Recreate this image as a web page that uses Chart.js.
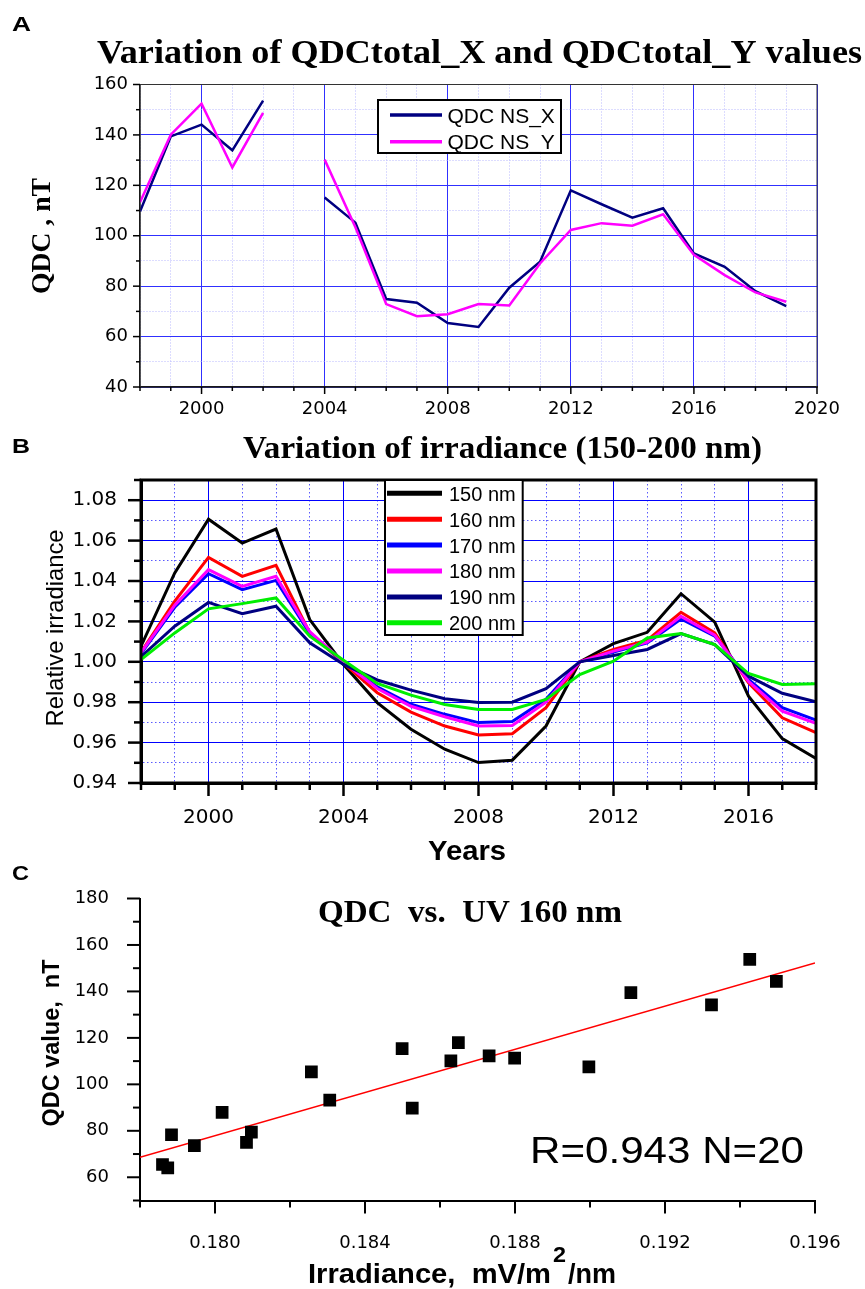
<!DOCTYPE html>
<html>
<head>
<meta charset="utf-8">
<script src="https://cdn.jsdelivr.net/npm/chart.js@4.4.1/dist/chart.umd.min.js"></script>
<style>
  html, body { margin: 0; padding: 0; background: #fff; }
  #wrap { position: relative; width: 865px; height: 1289px; }
  #wrap canvas { position: absolute; left: 0; top: 0; }
</style>
</head>
<body>
<div id="wrap">
  <canvas id="chartA" width="865" height="1289"></canvas>
  <canvas id="chartB" width="865" height="1289"></canvas>
  <canvas id="chartC" width="865" height="1289"></canvas>
</div>
<script>
// ---- Panel A: QDC totals (nT), 2003 missing ----
const yearsA = [1998, 1999, 2000, 2001, 2002, 2003, 2004, 2005, 2006, 2007, 2008,
                2009, 2010, 2011, 2012, 2013, 2014, 2015, 2016, 2017, 2018, 2019];
const qdcNsX = [109.6, 139.4, 144.1, 133.9, 153.6, null, 115.2, 105.2, 74.9, 73.4, 65.4,
                63.8, 79.4, 89.7, 118.0, 112.5, 107.2, 110.9, 93.0, 87.7, 78.0, 72.1];
const qdcNsY = [113.3, 140.1, 152.4, 127.1, 148.7, null, 130.2, 103.4, 72.9, 68.1, 68.9,
                72.9, 72.3, 89.0, 102.3, 105.0, 104.0, 108.5, 92.4, 84.4, 77.5, 73.8];

// ---- Panel B: relative irradiance ----
const yearsB = [1998, 1999, 2000, 2001, 2002, 2003, 2004, 2005, 2006, 2007, 2008,
                2009, 2010, 2011, 2012, 2013, 2014, 2015, 2016, 2017, 2018];
const bandLabels = ['150 nm', '160 nm', '170 nm', '180 nm', '190 nm', '200 nm'];
const irr150 = [1.0077, 1.0440, 1.0706, 1.0588, 1.0657, 1.0209, 0.9987, 0.9798, 0.9666, 0.9567, 0.9501,
                0.9513, 0.9682, 1.0000, 1.0090, 1.0146, 1.0337, 1.0196, 0.9830, 0.9620, 0.9521];
const irr160 = [1.0047, 1.0300, 1.0517, 1.0423, 1.0477, 1.0143, 0.9993, 0.9847, 0.9751, 0.9682, 0.9638,
                0.9644, 0.9773, 1.0000, 1.0061, 1.0107, 1.0245, 1.0143, 0.9896, 0.9723, 0.9649];
const irr170 = [1.0040, 1.0270, 1.0436, 1.0357, 1.0403, 1.0140, 1.0000, 0.9876, 0.9790, 0.9740, 0.9699,
                0.9704, 0.9814, 1.0000, 1.0048, 1.0094, 1.0212, 1.0127, 0.9913, 0.9773, 0.9712];
const irr180 = [1.0046, 1.0280, 1.0456, 1.0373, 1.0423, 1.0149, 1.0000, 0.9868, 0.9780, 0.9728, 0.9682,
                0.9685, 0.9800, 1.0000, 1.0053, 1.0097, 1.0225, 1.0132, 0.9903, 0.9756, 0.9695];
const irr190 = [1.0025, 1.0176, 1.0294, 1.0238, 1.0275, 1.0094, 0.9987, 0.9910, 0.9860, 0.9817, 0.9798,
                0.9800, 0.9867, 1.0000, 1.0031, 1.0061, 1.0140, 1.0085, 0.9929, 0.9844, 0.9802];
const irr200 = [1.0011, 1.0143, 1.0262, 1.0288, 1.0316, 1.0127, 1.0008, 0.9893, 0.9835, 0.9789, 0.9764,
                0.9764, 0.9814, 0.9937, 1.0003, 1.0118, 1.0140, 1.0085, 0.9942, 0.9888, 0.9891];

// ---- Panel C: QDC vs UV 160 nm ----
const uv160 = [0.17860, 0.17874, 0.17884, 0.17945, 0.18019, 0.18084, 0.18097, 0.18257, 0.18306, 0.18499,
               0.18526, 0.18629, 0.18649, 0.18731, 0.18799, 0.18997, 0.19109, 0.19324, 0.19426, 0.19497];
const qdcC = [65.5, 64.0, 78.3, 73.6, 87.9, 75.0, 79.4, 105.4, 93.2, 115.4,
              89.8, 110.1, 118.0, 112.3, 111.3, 107.5, 139.5, 134.2, 153.8, 144.3];
const fitIrr = [0.178, 0.196];
const fitQdc = [68.6, 152.3];

const H = 1289;
const SANS = '"Liberation Sans", Arial, sans-serif';
const SERIF = '"Liberation Serif", "Times New Roman", serif';
const TICKFONT = 'DejaVu Sans';

// draw text, squeezed/stretched to a target width
function fitText(ctx, it) {
  ctx.save();
  ctx.font = it.font;
  ctx.fillStyle = '#000';
  ctx.textBaseline = 'alphabetic';
  ctx.textAlign = it.align || 'left';
  const m = ctx.measureText(it.text).width;
  const sx = it.w ? it.w / m : 1;
  ctx.translate(it.x, it.y);
  if (it.rot) ctx.rotate(it.rot);
  ctx.scale(sx, 1);
  ctx.fillText(it.text, 0, 0);
  ctx.restore();
}

function textPlugin(items) {
  return {
    id: 'texts',
    afterDraw(chart) {
      items.forEach(it => fitText(chart.ctx, it));
    }
  };
}

// tick marks: long where the tick has a label, short otherwise
function tickPlugin(longLen, shortLen, width) {
  return {
    id: 'tickMarks',
    afterDraw(chart) {
      const ctx = chart.ctx;
      ctx.save();
      ctx.strokeStyle = '#000';
      ctx.lineWidth = width;
      ['x', 'y'].forEach(id => {
        const s = chart.scales[id];
        s.ticks.forEach(t => {
          const len = t.label !== '' ? longLen : shortLen;
          const p = s.getPixelForValue(t.value);
          ctx.beginPath();
          if (id === 'x') { ctx.moveTo(p, s.top); ctx.lineTo(p, s.top + len); }
          else { ctx.moveTo(s.right, p); ctx.lineTo(s.right - len, p); }
          ctx.stroke();
        });
      });
      ctx.restore();
    }
  };
}

function boxPlugin(width, color) {
  return {
    id: 'frame',
    afterDatasetsDraw(chart) {
      const a = chart.chartArea, ctx = chart.ctx;
      ctx.save();
      ctx.lineWidth = width;
      ctx.strokeStyle = color;
      ctx.strokeRect(a.left, a.top, a.right - a.left, a.bottom - a.top);
      ctx.restore();
    }
  };
}

function legendPlugin(cfg) {
  return {
    id: 'boxLegend',
    afterDatasetsDraw(chart) {
      const ctx = chart.ctx;
      ctx.save();
      ctx.fillStyle = '#fff';
      ctx.fillRect(cfg.x0, cfg.y0, cfg.x1 - cfg.x0, cfg.y1 - cfg.y0);
      ctx.lineWidth = 2;
      ctx.strokeStyle = '#000';
      ctx.strokeRect(cfg.x0, cfg.y0, cfg.x1 - cfg.x0, cfg.y1 - cfg.y0);
      chart.data.datasets.forEach((ds, i) => {
        const y = cfg.firstY + i * cfg.dy;
        ctx.strokeStyle = ds.borderColor;
        ctx.lineWidth = cfg.lineWidth;
        ctx.beginPath();
        ctx.moveTo(cfg.lineX0, y);
        ctx.lineTo(cfg.lineX1, y);
        ctx.stroke();
        fitText(ctx, { text: ds.label, font: cfg.font, x: cfg.textX, y: y + cfg.textDy });
      });
      ctx.restore();
    }
  };
}

function toXY(xs, ys) {
  return xs.map((x, i) => ({ x: x, y: ys[i] }));
}

// ================= Panel A =================
new Chart(document.getElementById('chartA'), {
  type: 'line',
  data: {
    datasets: [
      { label: 'QDC NS_X', data: toXY(yearsA, qdcNsX), borderColor: '#000080', borderWidth: 2.5, order: 1 },
      { label: 'QDC NS_Y', data: toXY(yearsA, qdcNsY), borderColor: '#ff00ff', borderWidth: 2.5, order: 0 }
    ]
  },
  options: {
    responsive: false,
    animation: false,
    devicePixelRatio: 1,
    events: [],
    elements: { point: { radius: 0 }, line: { tension: 0 } },
    layout: { padding: { left: 0, top: 84.5, right: 48, bottom: 0 } },
    plugins: { legend: { display: false }, tooltip: { enabled: false } },
    scales: {
      x: {
        type: 'linear', min: 1998, max: 2020,
        afterFit: s => { s.height = H - 387; },
        ticks: {
          stepSize: 1, autoSkip: false, maxRotation: 0, padding: 12, color: '#000',
          font: { family: TICKFONT, size: 18 },
          callback: v => v % 4 === 0 ? String(v) : ''
        },
        grid: { drawTicks: false, lineWidth: 1, color: c => c.tick && c.tick.value % 4 === 0 ? '#3030ff' : '#b8b8ff' },
        border: { color: '#000', width: 1.5, dash: c => (c.tick && c.tick.value % 4 !== 0) ? [1, 2] : [] }
      },
      y: {
        type: 'linear', min: 40, max: 160,
        afterFit: s => { s.width = 140; },
        ticks: {
          stepSize: 10, autoSkip: false, padding: 12, color: '#000',
          font: { family: TICKFONT, size: 18 },
          callback: v => v % 20 === 0 ? String(v) : ''
        },
        grid: { drawTicks: false, lineWidth: 1, color: c => c.tick && c.tick.value % 20 === 0 ? '#3030ff' : '#b8b8ff' },
        border: { color: '#000', width: 1.5, dash: c => (c.tick && c.tick.value % 20 !== 0) ? [1, 2] : [] }
      }
    }
  },
  plugins: [
    boxPlugin(1, '#333'),
    tickPlugin(7, 4, 1.5),
    legendPlugin({ x0: 378, y0: 100, x1: 561, y1: 153, lineX0: 390, lineX1: 442, firstY: 115, dy: 26.7,
                   lineWidth: 3.5, textX: 447.5, textDy: 7.5, font: '21px ' + SANS }),
    textPlugin([
      { text: 'A', font: 'bold 21px ' + SANS, x: 12, y: 31, w: 19 },
      { text: 'Variation of QDCtotal_X and QDCtotal_Y values', font: 'bold 34px ' + SERIF, x: 97, y: 63, w: 765 },
      { text: 'QDC , nT', font: 'bold 28px ' + SERIF, x: 50, y: 236, w: 116, align: 'center', rot: -Math.PI / 2 }
    ])
  ]
});

// ================= Panel B =================
const bandSeries = [irr150, irr160, irr170, irr180, irr190, irr200];
const bandColors = ['#000000', '#ff0000', '#0000ff', '#ff00ff', '#000080', '#00ee00'];
new Chart(document.getElementById('chartB'), {
  type: 'line',
  data: {
    datasets: bandSeries.map((s, i) => ({
      label: bandLabels[i], data: toXY(yearsB, s), borderColor: bandColors[i],
      borderWidth: 3, order: bandSeries.length - 1 - i
    }))
  },
  options: {
    responsive: false,
    animation: false,
    devicePixelRatio: 1,
    events: [],
    elements: { point: { radius: 0 }, line: { tension: 0 } },
    layout: { padding: { left: 0, top: 480, right: 49, bottom: 0 } },
    plugins: { legend: { display: false }, tooltip: { enabled: false } },
    scales: {
      x: {
        type: 'linear', min: 1998, max: 2018,
        afterFit: s => { s.height = H - 783; },
        ticks: {
          stepSize: 1, autoSkip: false, maxRotation: 0, padding: 23, color: '#000',
          font: { family: TICKFONT, size: 20 },
          callback: v => v % 4 === 0 ? String(v) : ''
        },
        grid: { drawTicks: false, lineWidth: 1, color: c => c.tick && c.tick.value % 4 === 0 ? '#0000ff' : '#5a5aff' },
        border: { color: '#000', width: 3, dash: c => (c.tick && c.tick.value % 4 !== 0) ? [1.5, 2.5] : [] }
      },
      y: {
        type: 'linear', min: 0.94, max: 1.09,
        afterFit: s => { s.width = 141; },
        ticks: {
          stepSize: 0.01, autoSkip: false, padding: 24, color: '#000',
          font: { family: TICKFONT, size: 20 },
          callback: v => Math.round(v * 100) % 2 === 0 ? v.toFixed(2) : ''
        },
        grid: { drawTicks: false, lineWidth: 1, color: c => c.tick && Math.round(c.tick.value * 100) % 2 === 0 ? '#0000ff' : '#5a5aff' },
        border: { color: '#000', width: 3, dash: c => (c.tick && Math.round(c.tick.value * 100) % 2 !== 0) ? [1.5, 2.5] : [] }
      }
    }
  },
  plugins: [
    boxPlugin(3, '#000'),
    tickPlugin(13, 7, 2.5),
    legendPlugin({ x0: 385, y0: 480, x1: 522.7, y1: 635, lineX0: 387, lineX1: 442, firstY: 493.3, dy: 25.9,
                   lineWidth: 5, textX: 449, textDy: 7.4, font: '20px ' + SANS }),
    textPlugin([
      { text: 'B', font: 'bold 21px ' + SANS, x: 12, y: 453, w: 18 },
      { text: 'Variation of irradiance (150-200 nm)', font: 'bold 32px ' + SERIF, x: 243, y: 458.3, w: 519 },
      { text: 'Relative irradiance', font: '24px ' + SANS, x: 63, y: 628, w: 197, align: 'center', rot: -Math.PI / 2 },
      { text: 'Years', font: 'bold 28px ' + SANS, x: 467, y: 860, w: 78, align: 'center' }
    ])
  ]
});

// ================= Panel C =================
new Chart(document.getElementById('chartC'), {
  type: 'scatter',
  data: {
    datasets: [
      { label: 'QDC', data: toXY(uv160, qdcC), pointStyle: 'rect', pointRadius: 9,
        backgroundColor: '#000', borderColor: '#000', borderWidth: 0, order: 0 },
      { label: 'fit', data: toXY(fitIrr, fitQdc), showLine: true, pointRadius: 0,
        borderColor: '#ff0000', borderWidth: 1.5, order: 1 }
    ]
  },
  options: {
    responsive: false,
    animation: false,
    devicePixelRatio: 1,
    events: [],
    layout: { padding: { left: 0, top: 898.5, right: 50, bottom: 0 } },
    plugins: { legend: { display: false }, tooltip: { enabled: false } },
    scales: {
      x: {
        type: 'linear', min: 0.178, max: 0.196,
        afterFit: s => { s.height = H - 1200.5; },
        ticks: {
          stepSize: 0.002, autoSkip: false, maxRotation: 0, padding: 24, color: '#000',
          font: { family: TICKFONT, size: 18 },
          callback: v => Math.round(v * 1000) % 4 === 0 ? v.toFixed(3) : ''
        },
        grid: { display: false },
        border: { color: '#000', width: 2 }
      },
      y: {
        type: 'linear', min: 50, max: 180,
        afterFit: s => { s.width = 140; },
        ticks: {
          stepSize: 10, autoSkip: false, padding: 23, color: '#000',
          font: { family: TICKFONT, size: 18 },
          callback: v => v % 20 === 0 ? String(v) : ''
        },
        grid: { display: false },
        border: { color: '#000', width: 2 }
      }
    }
  },
  plugins: [
    tickPlugin(13, 7, 2),
    textPlugin([
      { text: 'C', font: 'bold 21px ' + SANS, x: 12, y: 880, w: 17 },
      { text: 'QDC  vs.  UV 160 nm', font: 'bold 32px ' + SERIF, x: 318, y: 922, w: 304 },
      { text: 'R=0.943 N=20', font: '37px ' + SANS, x: 530, y: 1163, w: 274 },
      { text: 'QDC value,  nT', font: 'bold 23px ' + SANS, x: 59, y: 1043, w: 167, align: 'center', rot: -Math.PI / 2 },
      { text: 'Irradiance,  mV/m', font: 'bold 28px ' + SANS, x: 308, y: 1283, w: 243 },
      { text: '2', font: 'bold 22px ' + SANS, x: 553, y: 1262, w: 13 },
      { text: '/nm', font: 'bold 28px ' + SANS, x: 568, y: 1283, w: 48 }
    ])
  ]
});
</script>
</body>
</html>
